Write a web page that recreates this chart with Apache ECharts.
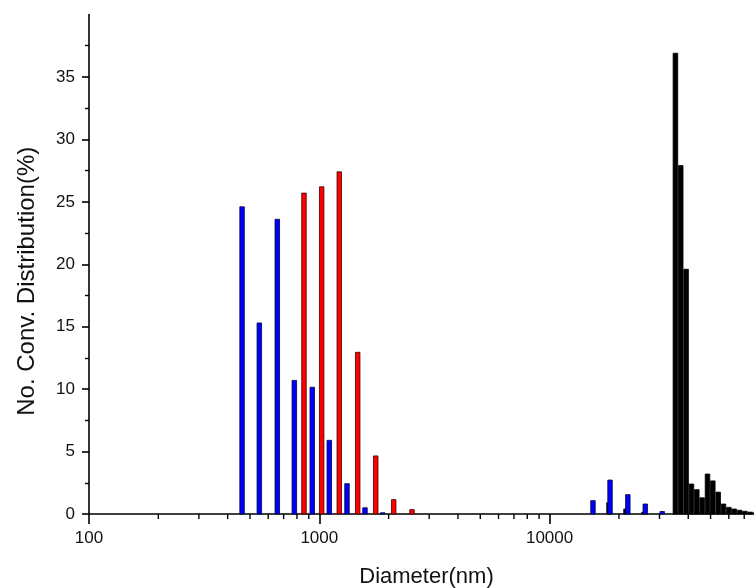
<!DOCTYPE html>
<html>
<head>
<meta charset="utf-8">
<script src="https://cdn.jsdelivr.net/npm/echarts@6/dist/echarts.min.js"></script>
<style>
  html, body { margin: 0; padding: 0; background: #fff; }
  #main { width: 754px; height: 588px; }
</style>
</head>
<body>
<div id="main"></div>
<script>
// diameters (nm) and number distribution (%)
const blueDiam = [462, 549, 657, 779, 932, 1105, 1319, 1579, 1885, 15430, 18300, 21860, 26030, 30830]
const blueVal = [24.6, 15.3, 23.6, 10.7, 10.15, 5.9, 2.43, 0.5, 0.1, 1.07, 2.72, 1.55, 0.8, 0.2]

const redDiam = [858, 1024, 1221, 1468, 1758, 2104, 2527]
const redVal = [25.7, 26.2, 27.4, 12.95, 4.65, 1.15, 0.35]

const blackDiam = [18110, 21470, 25700, 35180, 37100, 39150, 41290, 43570, 45950, 48490, 51120, 53960, 56900, 60050, 63320, 66830, 70470, 74380, 78480]
const blackVal = [0.9, 0.4, 0.15, 36.9, 27.9, 19.6, 2.4, 1.95, 1.3, 3.2, 2.65, 1.75, 0.8, 0.53, 0.4, 0.3, 0.22, 0.15, 0.1]

// tick marks: minor ticks of the log axis, labelled ticks of the y axis
const minorTickVals = [200, 300, 400, 500, 600, 700, 800, 900, 2000, 3000, 4000, 5000, 6000, 7000, 8000, 9000, 20000, 30000, 40000, 50000, 60000, 70000]
const yTickVals = [0, 5, 10, 15, 20, 25, 30, 35]

let myChart = echarts.init(document.getElementById('main'))

function zip(xs, ys) {
  return xs.map((x, i) => [x, ys[i]])
}

function barRenderer(width, fill, stroke) {
  return function (params, api) {
    let base = api.coord([api.value(0), 0])
    let top = api.coord([api.value(0), api.value(1)])
    return {
      type: 'rect',
      shape: { x: base[0] - width / 2, y: top[1], width: width, height: base[1] - top[1] },
      style: { fill: fill, stroke: stroke, lineWidth: 0.8 },
    }
  }
}

const font = 'Liberation Sans, Arial, sans-serif'

let option = {
  animation: false,
  // plot runs past the right edge of the picture, like the cropped original
  grid: { left: 89, right: -10, top: 14.5, bottom: 74, containLabel: false, outerBoundsMode: 'none' },
  xAxis: {
    type: 'log',
    logBase: 10,
    min: 100,
    max: 85300,
    name: 'Diameter(nm)',
    nameLocation: 'middle',
    nameGap: 52,
    nameTextStyle: { fontFamily: font, fontSize: 22, color: '#111' },
    axisLine: { lineStyle: { color: '#000', width: 1.6 } },
    axisTick: { length: 10, lineStyle: { color: '#000', width: 1.6 } },
    axisLabel: {
      margin: 16,
      fontFamily: font,
      fontSize: 17,
      color: '#111',
      formatter: (v) => {
        let e = Math.log10(v)
        return Math.abs(e - Math.round(e)) < 1e-6 ? String(Math.round(v)) : ''
      },
    },
    splitLine: { show: false },
  },
  yAxis: {
    type: 'value',
    min: 0,
    max: 40,
    interval: 5,
    name: 'No. Conv. Distribution(%)',
    nameLocation: 'middle',
    nameGap: 50,
    nameTextStyle: { fontFamily: font, fontSize: 24, color: '#111', padding: [0, 34, 0, 0] },
    axisLine: { show: true, lineStyle: { color: '#000', width: 1.6 } },
    axisTick: { length: 7, customValues: yTickVals, lineStyle: { color: '#000', width: 1.6 } },
    minorTick: { show: true, splitNumber: 2, length: 4, lineStyle: { color: '#000', width: 1.4 } },
    axisLabel: {
      margin: 14,
      fontFamily: font,
      fontSize: 17,
      color: '#111',
      customValues: yTickVals,
      formatter: (v) => (v >= 40 ? '' : String(v)),
    },
    splitLine: { show: false },
    minorSplitLine: { show: false },
  },
  series: [
    {
      name: 'minor ticks',
      type: 'custom',
      silent: true,
      data: minorTickVals.map((v) => [v, 0]),
      renderItem: (params, api) => {
        let p = api.coord([api.value(0), 0])
        return {
          type: 'line',
          shape: { x1: p[0], y1: p[1], x2: p[0], y2: p[1] + 5 },
          style: { stroke: '#000', lineWidth: 1.4 },
        }
      },
    },
    {
      name: 'black',
      type: 'custom',
      data: zip(blackDiam, blackVal),
      renderItem: barRenderer(4.6, '#000', '#000'),
    },
    {
      name: 'red',
      type: 'custom',
      data: zip(redDiam, redVal),
      renderItem: barRenderer(4.5, '#ff0000', '#3a0000'),
    },
    {
      name: 'blue',
      type: 'custom',
      data: zip(blueDiam, blueVal),
      renderItem: barRenderer(4.5, '#0000ff', '#00003a'),
    },
  ],
}

myChart.setOption(option)
</script>
</body>
</html>
